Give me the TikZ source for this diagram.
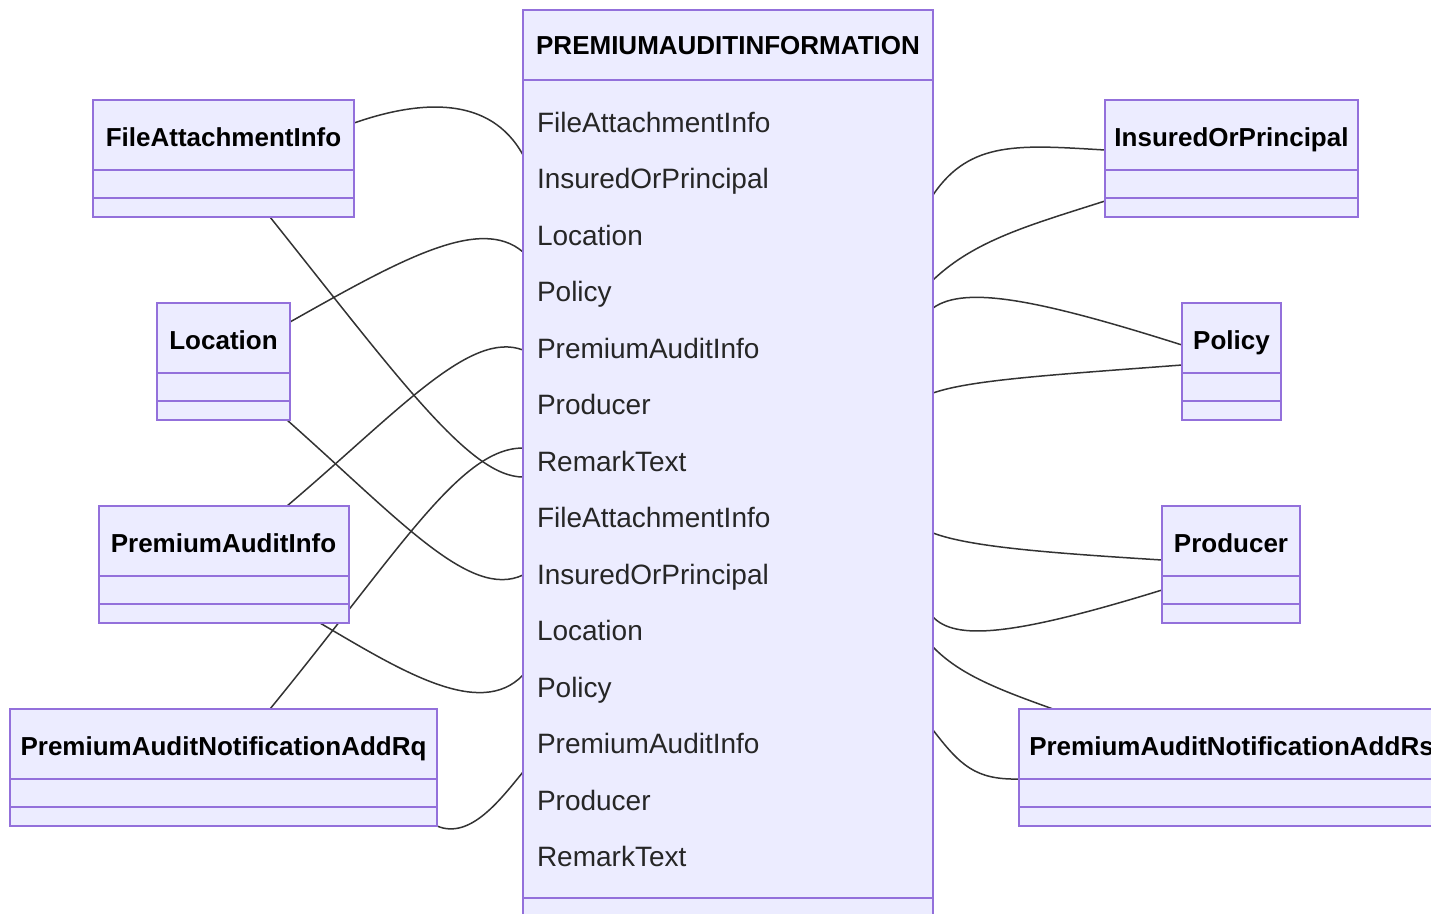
\documentclass[tikz,border=0pt]{standalone}
\usepackage{fontspec}
\setmainfont{Liberation Sans}
\usetikzlibrary{positioning}
\usetikzlibrary{backgrounds}
\definecolor{boxfill}{HTML}{ECECFF}
\definecolor{boxline}{HTML}{9370DB}
\definecolor{edgeline}{HTML}{333333}

\begin{document}
\begin{tikzpicture}[x=1pt, y=-1pt,
  every node/.style = {shape=rectangle, inner sep=0pt, outer sep=0pt},
  head/.style = {draw=boxline, fill=boxfill, line width=2pt, minimum height=70pt,
    font=\fontsize{26}{30}\selectfont\bfseries, text height=19pt, text depth=0pt},
  side/.style = {head, text height=23pt},
  part/.style = {draw=boxline, fill=boxfill, line width=2pt},
  attr/.style = {anchor=base west, font=\fontsize{28}{32}\selectfont, text=black!85},
  link/.style = {draw=edgeline, line width=1.5pt}]
  \path[use as bounding box, clip] (0,0) rectangle (1431,913);

  % the big class in the middle
  \node[head, minimum width=410pt] (info) at (728,45) {PREMIUMAUDITINFORMATION};
  \node[part, minimum width=410pt, minimum height=818pt, below=0pt of info] (infobody) {};
  \node[part, minimum width=410pt, minimum height=19pt, below=0pt of infobody] (infoops) {};
  \foreach \row [count=\i from 0] in {FileAttachmentInfo, InsuredOrPrincipal, Location,
      Policy, PremiumAuditInfo, Producer, RemarkText, FileAttachmentInfo,
      InsuredOrPrincipal, Location, Policy, PremiumAuditInfo, Producer, RemarkText}
    \node[attr] (row\i) at (537,{132+56.5*\i}) {\row};

  % left column
  \node[side, minimum width=261pt] (fai) at (223.5,135) {FileAttachmentInfo};
  \node[part, minimum width=261pt, minimum height=28pt, below=0pt of fai] (fai2) {};
  \node[part, minimum width=261pt, minimum height=19pt, below=0pt of fai2] (fai3) {};

  \node[side, minimum width=133pt] (loc) at (223.5,338) {Location};
  \node[part, minimum width=133pt, minimum height=28pt, below=0pt of loc] (loc2) {};
  \node[part, minimum width=133pt, minimum height=19pt, below=0pt of loc2] (loc3) {};

  \node[side, minimum width=250pt] (pai) at (223.5,541) {PremiumAuditInfo};
  \node[part, minimum width=250pt, minimum height=28pt, below=0pt of pai] (pai2) {};
  \node[part, minimum width=250pt, minimum height=19pt, below=0pt of pai2] (pai3) {};

  \node[side, minimum width=427pt] (rq) at (223.5,744) {PremiumAuditNotificationAddRq};
  \node[part, minimum width=427pt, minimum height=28pt, below=0pt of rq] (rq2) {};
  \node[part, minimum width=427pt, minimum height=19pt, below=0pt of rq2] (rq3) {};

  % right column
  \node[side, minimum width=253pt] (iop) at (1231.5,135) {InsuredOrPrincipal};
  \node[part, minimum width=253pt, minimum height=28pt, below=0pt of iop] (iop2) {};
  \node[part, minimum width=253pt, minimum height=19pt, below=0pt of iop2] (iop3) {};

  \node[side, minimum width=99pt] (pol) at (1231.5,338) {Policy};
  \node[part, minimum width=99pt, minimum height=28pt, below=0pt of pol] (pol2) {};
  \node[part, minimum width=99pt, minimum height=19pt, below=0pt of pol2] (pol3) {};

  \node[side, minimum width=138pt] (pro) at (1231,541) {Producer};
  \node[part, minimum width=138pt, minimum height=28pt, below=0pt of pro] (pro2) {};
  \node[part, minimum width=138pt, minimum height=19pt, below=0pt of pro2] (pro3) {};

  \node[side, minimum width=425pt] (rs) at (1231.5,744) {PremiumAuditNotificationAddRs};
  \node[part, minimum width=425pt, minimum height=28pt, below=0pt of rs] (rs2) {};
  \node[part, minimum width=425pt, minimum height=19pt, below=0pt of rs2] (rs3) {};

  % links, kept behind the boxes
  \begin{pgfonlayer}{background}
    \draw[link] ([yshift=12pt]fai.east) .. controls +(66,-23) and +(-33,-60) .. ([yshift=-75pt]infobody.north west);
    \draw[link] ([xshift=46.5pt]fai3.south) .. controls +(130,163) and +(-53,0) .. ([yshift=-397pt]infobody.north west);
    \draw[link] ([yshift=16pt]loc.east) .. controls +(110,-62) and +(-43,-37) .. ([yshift=-172pt]infobody.north west);
    \draw[link] ([xshift=-3pt]loc3.south east) .. controls +(113,100) and +(-53,25) .. ([yshift=-495pt]infobody.north west);
    \draw[link] ([xshift=63.5pt]pai.north) .. controls +(113,-96) and +(-53,-20) .. ([yshift=-270pt]infobody.north west);
    \draw[link] ([xshift=96.5pt]pai3.south) .. controls +(80,47) and +(-43,45) .. ([yshift=-595pt]infobody.north west);
    \draw[link] ([xshift=46.5pt]rq.north) .. controls +(130,-159) and +(-63,0) .. ([yshift=-368pt]infobody.north west);
    \draw[link] (rq3.south east) .. controls +(33,14) and +(-23,28) .. ([yshift=-692pt]infobody.north west);

    \draw[link] ([yshift=-115pt]infobody.north east) .. controls +(37,-55) and +(-85,-5) .. ([yshift=-15pt]iop.west);
    \draw[link] ([yshift=-200pt]infobody.north east) .. controls +(42,-40) and +(-75,24) .. ([yshift=-3pt]iop3.north west);
    \draw[link] ([yshift=-228pt]infobody.north east) .. controls +(32,-23) and +(-142,-45) .. ([yshift=-7pt]pol.west);
    \draw[link] ([yshift=-313pt]infobody.north east) .. controls +(37,-13) and +(-132,10) .. ([yshift=8pt]pol.south west);
    \draw[link] ([yshift=-453pt]infobody.north east) .. controls +(37,14) and +(-112,-7) .. ([yshift=16pt]pro.south west);
    \draw[link] ([yshift=-537pt]infobody.north east) .. controls +(22,23) and +(-152,47) .. (pro2.west);
    \draw[link] ([yshift=-567pt]infobody.north east) .. controls +(27,28) and +(-53,-19) .. ([xshift=34pt]rs.north west);
    \draw[link] ([yshift=-650pt]infobody.north east) .. controls +(27,35) and +(-44,1) .. (rs.south west);
  \end{pgfonlayer}
\end{tikzpicture}
\end{document}
